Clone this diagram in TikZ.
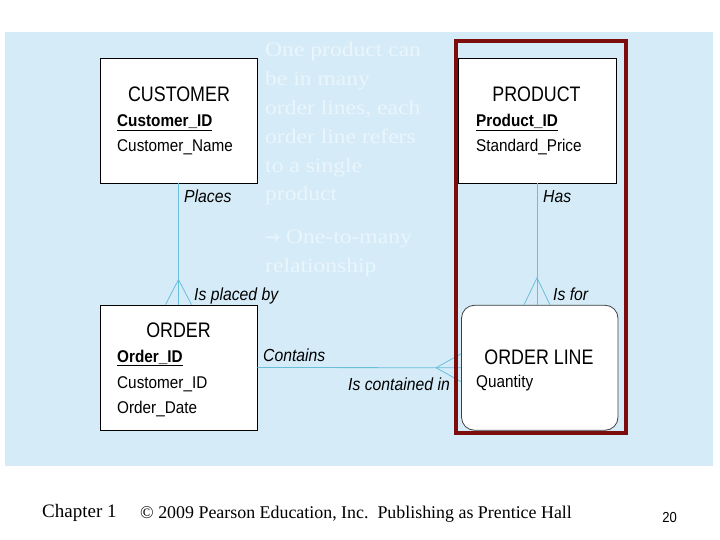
\documentclass[tikz,border=0pt]{standalone}
\usepackage{xcolor}
\usepackage{fontspec}
\usepackage{tikz}
\setmainfont{Liberation Serif}
\newfontfamily\ersans[FakeStretch=0.9]{Liberation Sans}
\newfontfamily\erhead[FakeStretch=0.85]{Liberation Sans}
\newfontfamily\notefont[FakeStretch=1.15]{Liberation Serif}
\newfontfamily\arrowfont{DejaVu Sans}
\definecolor{panelBlue}{RGB}{213,236,248}
\definecolor{relBlue}{RGB}{105,190,220}
\definecolor{frameRed}{RGB}{125,12,12}
\definecolor{noteWhite}{RGB}{234,245,252}
\usetikzlibrary{calc,positioning}

\begin{document}
\begin{tikzpicture}[
  x=1pt,
  y=-1pt,
  entity/.style={draw=black, fill=white, line width=0.8pt, inner sep=0pt, minimum height=125pt},
  ername/.style={font=\erhead\fontsize{21}{24}\selectfont, anchor=base, inner sep=0pt},
  attr/.style={font=\ersans\fontsize{17}{20}\selectfont, anchor=base west, inner sep=0pt},
  rolelbl/.style={font=\ersans\itshape\fontsize{17.5}{20}\selectfont, anchor=base west, inner sep=0pt},
  rel/.style={draw=relBlue, line width=0.8pt},
  note/.style={font=\notefont\fontsize{20.5}{28.8}\selectfont, text=noteWhite, align=left, anchor=base west, inner sep=0pt},
  foot/.style={anchor=base west, inner sep=0pt}
]
\useasboundingbox (0,0) rectangle (720,540);
\fill[panelBlue] (5,32) rectangle (713,466);

\node[entity, minimum width=157pt] (cust) at (178.5,120.5) {};
\node[entity, minimum width=158pt] (prod) at (537,120.5) {};
\node[entity, minimum width=157pt] (ord) at (178.5,367.5) {};
\node[entity, minimum width=156.5pt, draw=black!75, rounded corners=13pt] (ordl) at (539.75,367.75) {};

\node[ername] (custname) at (179,102) {CUSTOMER};
\node[attr] (custkey) at (117,127) {\textbf{\underline{Customer\_ID}}};
\node[attr] (custattr) at (117,152) {Customer\_Name};

\node[ername] (prodname) at (536.5,102) {PRODUCT};
\node[attr] (prodkey) at (476,127) {\textbf{\underline{Product\_ID}}};
\node[attr] (prodattr) at (476,152) {Standard\_Price};

\node[ername] (ordname) at (178.5,337) {ORDER};
\node[attr] (ordkey) at (117,362) {\textbf{\underline{Order\_ID}}};
\node[attr] (ordcust) at (117,388) {Customer\_ID};
\node[attr] (orddate) at (117,413) {Order\_Date};

\node[ername] (ordlname) at (539,364) {ORDER LINE};
\node[attr] (ordlqty) at (476,387) {Quantity};

\draw[rel] (cust.south) -- (ord.north);
\draw[rel] ($(ord.north)+(-13,0)$) -- ($(ord.north)+(0,-25)$) -- ($(ord.north)+(13,0)$);
\draw[rel] (prod.south) -- (prod.south |- ordl.north);
\draw[rel] ($(prod.south |- ordl.north)+(-13,0)$) -- ($(prod.south |- ordl.north)+(0,-27)$) -- ($(prod.south |- ordl.north)+(13,0)$);
\draw[rel] (ord.east) -- (ordl.west);
\draw[rel] ($(ordl.west)+(0,-14)$) -- ($(ordl.west)+(-25,0)$) -- ($(ordl.west)+(0,14)$);

\node[rolelbl] (places) at (184,203) {Places};
\node[rolelbl] (placedby) at (194,300) {Is placed by};
\node[rolelbl] (has) at (543,203) {Has};
\node[rolelbl] (isfor) at (553,300) {Is for};
\node[rolelbl] (contains) at (263,361) {Contains};
\node[rolelbl, anchor=base east] (containedin) at (450,390) {Is contained in};

\draw[frameRed, line width=3.5pt] (456,41) rectangle (626,433);

\node[note] (prodnote) at (265,201)
  {One product can\\be in many\\order lines, each\\order line refers\\to a single\\product};
\node[note] (kindnote) at (265,272)
  {{\arrowfont\fontsize{18}{28.8}\selectfont →} One-to-many\\relationship};

\node[foot, font=\fontsize{19}{22}\selectfont] (chap) at (42,517) {Chapter 1};
\node[foot, font=\fontsize{17.9}{21}\selectfont] (copyr) at (140,518)
  {\textcopyright{} 2009 Pearson Education, Inc.\ \ Publishing as Prentice Hall};
\node[foot, anchor=base east, font=\ersans\fontsize{14.5}{16}\selectfont] (pageno) at (677,522) {20};
\end{tikzpicture}
\end{document}
